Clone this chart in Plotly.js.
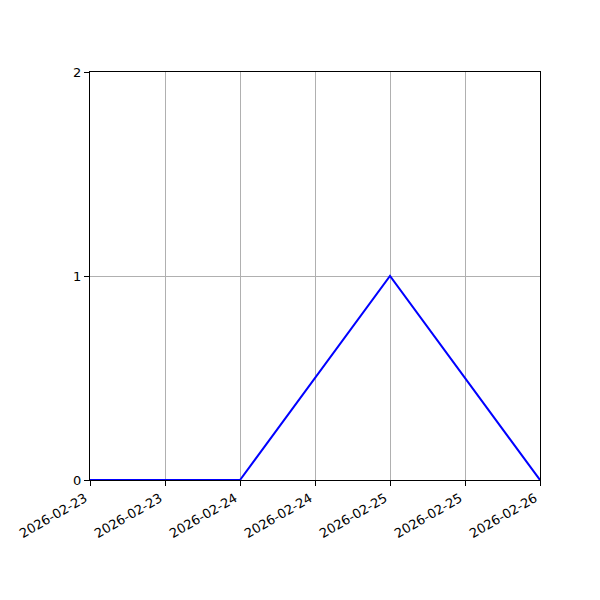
<!DOCTYPE html>
<html>
<head>
<meta charset="utf-8">
<script src="https://cdn.plot.ly/plotly-3.0.1.min.js"></script>
<style>body{margin:0;padding:0;background:#fff;}</style>
</head>
<body>
<div id="plot" style="width:600px;height:600px;"></div>
<script>
// data points
let dates = ['2026-02-23', '2026-02-24', '2026-02-25', '2026-02-26'];
let values = [0, 0, 1, 0];

// tick positions every 12 hours, labels show only the date
let tickVals = ['2026-02-23 00:00', '2026-02-23 12:00', '2026-02-24 00:00', '2026-02-24 12:00',
                '2026-02-25 00:00', '2026-02-25 12:00', '2026-02-26 00:00'];
let tickText = ['2026-02-23', '2026-02-23', '2026-02-24', '2026-02-24',
                '2026-02-25', '2026-02-25', '2026-02-26'];
let yTicks = [0, 1, 2];

let trace = {
  x: dates,
  y: values,
  type: 'scatter',
  mode: 'lines',
  line: {color: 'blue', width: 2},
  hoverinfo: 'skip'
};

let axisStyle = {
  showline: true,
  linecolor: 'black',
  linewidth: 1,
  mirror: true,
  ticks: 'outside',
  ticklen: 5,
  tickwidth: 1,
  tickcolor: 'black',
  showgrid: true,
  gridcolor: '#b0b0b0',
  gridwidth: 1,
  zeroline: false
};

let layout = {
  width: 600,
  height: 600,
  showlegend: false,
  paper_bgcolor: 'white',
  plot_bgcolor: 'white',
  margin: {l: 90, r: 60, t: 72, b: 120},
  font: {family: 'DejaVu Sans', size: 13, color: 'black'},
  xaxis: Object.assign({}, axisStyle, {
    type: 'date',
    range: ['2026-02-23', '2026-02-26'],
    tickmode: 'array',
    tickvals: tickVals,
    ticktext: tickText,
    tickangle: -30,
    ticklabelshift: -5
  }),
  yaxis: Object.assign({}, axisStyle, {
    range: [0, 2],
    tickmode: 'array',
    tickvals: yTicks,
    ticktext: yTicks.map(String)
  })
};

Plotly.newPlot('plot', [trace], layout, {staticPlot: true});
</script>
</body>
</html>
